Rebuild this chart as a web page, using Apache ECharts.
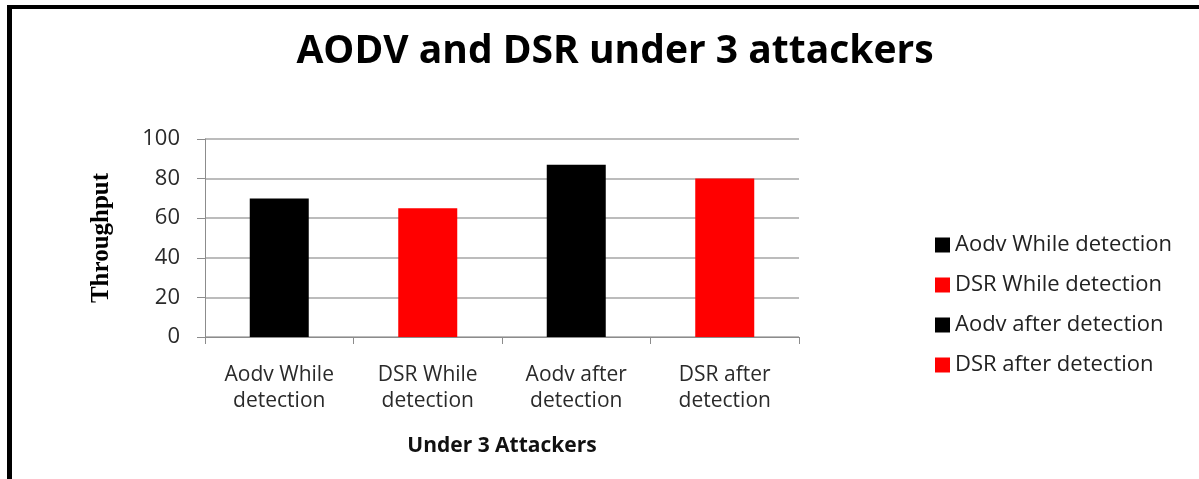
<!DOCTYPE html>
<html>
<head>
<meta charset="utf-8">
<script src="https://cdn.jsdelivr.net/npm/echarts@6/dist/echarts.min.js"></script>
<style>
    html, body {margin: 0; padding: 0; background: #fff;}
    #main {width: 1199px; height: 479px;}
</style>
</head>
<body>
<div id="main"></div>
<script>
// 数据
var categories = ['Aodv While\ndetection', 'DSR While\ndetection', 'Aodv after\ndetection', 'DSR after\ndetection'];
var seriesNames = ['Aodv While detection', 'DSR While detection', 'Aodv after detection', 'DSR after detection'];
var throughput = [70, 65, 87, 80];
var barColors = ['#000000', '#ff0000', '#000000', '#ff0000'];
var yTicks = [0, 20, 40, 60, 80, 100];

var myChart = echarts.init(document.getElementById('main'));

// 每个柱子一个系列, 叠在同一个位置
var series = seriesNames.map(function (name, i) {
    var d = categories.map(function (c, j) {
        return j === i ? throughput[i] : '-';
    });
    return {
        name: name,
        type: 'bar',
        stack: 'all',
        barWidth: 59,
        itemStyle: {color: barColors[i]},
        data: d
    };
});

var option = {
    backgroundColor: '#fff',
    animation: false,
    title: {
        text: 'AODV and DSR under 3 attackers',
        left: 610,
        textAlign: 'center',
        top: 27,
        textStyle: {
            fontFamily: 'Open Sans',
            fontWeight: 'bold',
            fontSize: 39,
            color: '#000'
        }
    },
    legend: {
        orient: 'vertical',
        left: 930,
        top: 229,
        itemWidth: 15,
        itemHeight: 15,
        itemGap: 18,
        icon: 'rect',
        data: seriesNames,
        textStyle: {
            fontFamily: 'Open Sans',
            fontSize: 22,
            lineHeight: 22,
            color: '#222'
        }
    },
    grid: {
        left: 205,
        right: 400,
        top: 139,
        bottom: 142,
        containLabel: false
    },
    xAxis: {
        type: 'category',
        data: categories,
        name: 'Under 3 Attackers',
        nameLocation: 'middle',
        nameGap: 99,
        nameTextStyle: {
            fontFamily: 'Open Sans',
            fontWeight: 'bold',
            fontSize: 21,
            color: '#111'
        },
        axisLine: {lineStyle: {color: '#8c8c8c', width: 1}},
        axisTick: {show: true, interval: 0, length: 7, lineStyle: {color: '#8c8c8c'}},
        axisLabel: {
            interval: 0,
            hideOverlap: false,
            margin: 25,
            fontFamily: 'Open Sans',
            fontSize: 21,
            lineHeight: 26,
            color: '#2a2a2a'
        }
    },
    yAxis: {
        type: 'value',
        min: yTicks[0],
        max: yTicks[yTicks.length - 1],
        interval: 20,
        name: 'Throughput',
        nameLocation: 'middle',
        nameGap: 91,
        nameTextStyle: {
            fontFamily: 'Liberation Serif',
            fontWeight: 'bold',
            fontSize: 25,
            color: '#000'
        },
        axisLine: {show: true, lineStyle: {color: '#8c8c8c', width: 1}},
        axisTick: {show: true, length: 8, lineStyle: {color: '#8c8c8c'}},
        axisLabel: {
            margin: 25,
            fontFamily: 'Open Sans',
            fontSize: 22,
            color: '#2a2a2a'
        },
        splitLine: {lineStyle: {color: '#a6a6a6', width: 1.5}}
    },
    graphic: [
        // 外框
        {type: 'line', shape: {x1: 9.5, y1: 5, x2: 9.5, y2: 479}, style: {stroke: '#000', lineWidth: 5}},
        {type: 'line', shape: {x1: 7, y1: 7, x2: 1199, y2: 7}, style: {stroke: '#000', lineWidth: 4}}
    ],
    series: series
};

myChart.setOption(option);
</script>
</body>
</html>
